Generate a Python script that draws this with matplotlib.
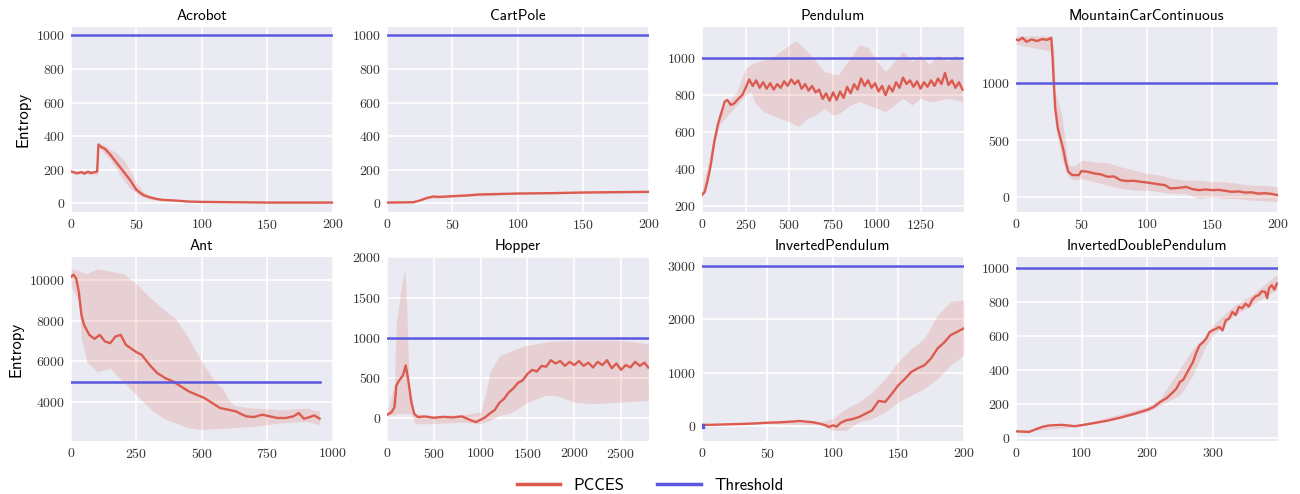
import numpy as np
import matplotlib
matplotlib.use("Agg")
import matplotlib.pyplot as plt

# ---------------- data ----------------
titles = ["Acrobot", "CartPole", "Pendulum", "MountainCarContinuous",
          "Ant", "Hopper", "InvertedPendulum", "InvertedDoublePendulum"]
thresholds = [1000, 1000, 1000, 1000, 5000, 1000, 3000, 1000]

# Acrobot
acro_x = [0, 3, 5, 8, 10, 13, 15, 18, 20, 21, 23, 26, 30, 35, 40, 45, 50, 55,
          60, 65, 70, 80, 90, 100, 125, 150, 200]
acro_y = [190, 182, 178, 186, 176, 188, 180, 185, 188, 350, 335, 324, 290,
          240, 190, 140, 80, 50, 36, 26, 20, 16, 10, 8, 6, 4, 4]
acro_bx = [0, 20, 21, 25, 30, 35, 40, 45, 50, 55, 60, 70, 100, 200]
acro_lo = [180, 170, 340, 300, 260, 200, 140, 90, 60, 36, 24, 16, 6, 2]
acro_hi = [196, 196, 356, 350, 320, 300, 260, 200, 120, 70, 44, 26, 12, 8]

# CartPole
cart_x = [0, 10, 20, 25, 30, 35, 40, 50, 60, 70, 80, 100, 125, 150, 175, 200]
cart_y = [4, 5, 6, 16, 30, 40, 38, 42, 46, 52, 54, 58, 60, 64, 66, 68]
cart_bx = [0, 20, 30, 50, 100, 150, 200]
cart_lo = [2, 3, 26, 38, 54, 60, 63]
cart_hi = [7, 9, 34, 47, 62, 68, 73]

# Pendulum
pend_x = [0, 15, 30, 50, 70, 90, 110, 130, 145, 165, 185, 210, 230,
          250, 270, 290, 310, 330, 350, 370, 390, 410, 430, 450, 470, 490,
          510, 530, 550, 570, 590, 610, 630, 650, 670, 690, 710, 730, 750,
          770, 790, 810, 830, 850, 870, 890, 910, 930, 950, 970, 990, 1010,
          1030, 1050, 1070, 1090, 1110, 1130, 1150, 1170, 1190, 1210, 1230,
          1250, 1270, 1290, 1310, 1330, 1350, 1370, 1390, 1410, 1430, 1450,
          1470, 1490]
pend_y = [262, 277, 331, 422, 548, 639, 702, 765, 774, 747, 756, 783, 800,
          840, 885, 850, 880, 840, 870, 835, 865, 830, 860, 840, 875, 850,
          885, 860, 880, 835, 860, 825, 850, 815, 830, 780, 810, 770, 815,
          775, 820, 785, 845, 810, 860, 830, 890, 850, 880, 840, 865, 820,
          850, 800, 850, 820, 870, 840, 895, 860, 880, 845, 875, 835, 870,
          845, 880, 850, 890, 860, 920, 855, 880, 840, 870, 830]
pend_bx = [0, 100, 200, 250, 280, 300, 350, 400, 450, 500, 530, 550, 600,
           650, 700, 750, 780, 800, 850, 900, 950, 1000, 1050, 1100, 1150,
           1200, 1250, 1300, 1350, 1400, 1450, 1490]
pend_lo = [245, 639, 747, 801, 819, 765, 711, 692, 674, 656, 640, 630, 674,
           692, 729, 692, 700, 711, 747, 765, 747, 729, 711, 747, 783, 747,
           783, 765, 770, 783, 775, 765]
pend_hi = [290, 711, 819, 946, 965, 973, 990, 1000, 1037, 1070, 1092, 1085,
           1037, 983, 928, 915, 910, 940, 1000, 1073, 1055, 983, 928, 983,
           1037, 983, 1019, 965, 1019, 983, 1019, 983]

# MountainCarContinuous
mcar_x = [0, 2, 5, 8, 12, 16, 20, 24, 27, 28, 29, 30, 32, 34, 36, 38, 40,
          43, 48, 50, 55, 60, 65, 70, 75, 80, 85, 90, 95, 100, 105, 110, 114,
          118, 125, 130, 135, 140, 145, 150, 155, 160, 165, 170, 175, 180,
          185, 190, 195, 200]
mcar_y = [1386, 1378, 1401, 1366, 1386, 1372, 1389, 1383, 1401, 1224, 988,
          782, 605, 516, 428, 310, 221, 192, 192, 227, 221, 206, 198, 177,
          180, 147, 139, 142, 133, 127, 118, 109, 103, 74, 80, 88, 68, 59, 65,
          59, 62, 53, 44, 48, 38, 40, 29, 32, 27, 15]
mcar_bx = [0, 27, 29, 30, 35, 40, 45, 50, 60, 70, 80, 90, 100, 110, 120, 130,
           140, 150, 160, 170, 180, 190, 200]
mcar_lo = [1342, 1283, 1000, 634, 339, 177, 147, 162, 133, 103, 74, 59, 59,
           44, 29, 29, -15, 0, -15, -15, -29, -35, -44]
mcar_hi = [1416, 1416, 1300, 929, 723, 280, 270, 324, 310, 300, 265, 236,
           206, 192, 162, 147, 147, 133, 133, 118, 103, 103, 88]

# Ant
ant_x = [0, 10, 20, 30, 40, 50, 70, 90, 110, 130, 150, 170, 190, 210, 250,
         270, 300, 330, 360, 390, 420, 450, 480, 510, 540, 570, 600, 630, 650,
         670, 700, 730, 760, 790, 820, 850, 870, 890, 910, 930, 950]
ant_y = [10164, 10279, 10082, 9426, 8295, 7803, 7311, 7115, 7311, 6984, 6902,
         7230, 7311, 6820, 6459, 6328, 5836, 5426, 5180, 5016, 4770, 4525,
         4361, 4197, 3951, 3705, 3623, 3541, 3410, 3295, 3262, 3377, 3295,
         3213, 3213, 3295, 3459, 3180, 3250, 3340, 3180]
ant_bx = [0, 30, 40, 60, 100, 150, 200, 250, 300, 350, 400, 450, 500, 550,
          580, 600, 620, 650, 700, 800, 900, 950]
ant_lo = [9754, 8934, 7131, 5984, 5492, 5656, 5000, 4344, 3705, 3213, 2967,
          2721, 2639, 2680, 2700, 2721, 2740, 2760, 2803, 2967, 3049, 2885]
ant_hi = [10574, 10490, 10400, 10328, 10574, 10450, 10328, 9836, 9180, 8607,
          8115, 7131, 5984, 5000, 4672, 4180, 3852, 3770, 3705, 3623, 3705,
          3541]

# Hopper
hop_x = [0, 50, 80, 100, 130, 170, 200, 230, 260, 290, 330, 400, 500, 600,
         700, 800, 900, 950, 1000, 1050, 1100, 1150, 1200, 1250, 1300, 1350,
         1400, 1450, 1500, 1550, 1600, 1650, 1700, 1750, 1800, 1850, 1900,
         1950, 2000, 2050, 2100, 2150, 2200, 2250, 2300, 2350, 2400, 2450,
         2500, 2550, 2600, 2650, 2700, 2750, 2790]
hop_y = [41, 75, 137, 407, 469, 531, 656, 448, 199, 54, 12, 20, 4, 15, 8,
         21, -29, -50, -20, 10, 60, 100, 190, 240, 320, 370, 440, 470, 550,
         600, 580, 650, 640, 720, 680, 710, 650, 700, 660, 710, 650, 690,
         630, 700, 660, 720, 620, 680, 600, 660, 630, 700, 650, 690, 630]
hop_bx = [0, 80, 100, 150, 190, 210, 240, 260, 300, 500, 800, 1000, 1050,
          1100, 1200, 1300, 1400, 1500, 1600, 1700, 1800, 2000, 2200, 2500,
          2790]
hop_lo = [33, 40, 54, 54, 54, 54, 54, 54, -70, -70, -50, -70, -50, -29, 33,
          54, 116, 199, 240, 282, 282, 199, 178, 199, 220]
hop_hi = [41, 448, 1195, 1610, 1859, 1404, 282, 137, 54, 33, 41, 75, 282,
          573, 780, 822, 870, 905, 925, 946, 960, 967, 967, 967, 925]

# InvertedPendulum
ip_x = [0, 10, 20, 30, 40, 50, 60, 70, 75, 80, 85, 90, 95, 97, 100, 103,
        106, 110, 115, 120, 125, 130, 135, 140, 145, 150, 155, 160, 165, 170,
        175, 180, 185, 190, 195, 200]
ip_y = [19, 25, 32, 38, 48, 62, 70, 85, 94, 80, 70, 44, 10, -19, 12, -10, 60,
        106, 130, 169, 230, 294, 469, 450, 600, 762, 880, 1012, 1080, 1137,
        1262, 1450, 1560, 1700, 1760, 1825]
ip_bx = [0, 50, 90, 100, 110, 120, 130, 140, 150, 160, 170, 180, 190, 200]
ip_lo = [5, 45, 20, -81, -81, 75, 137, 262, 450, 575, 700, 887, 1137, 1325]
ip_hi = [35, 80, 70, 137, 325, 450, 637, 887, 1200, 1450, 1637, 2075, 2325,
         2356]
ip_mark_x = [0]
ip_mark_y = [0]

# InvertedDoublePendulum
idp_x = [0, 20, 30, 40, 50, 70, 90, 100, 120, 140, 160, 180, 200, 210, 220,
         230, 240, 245, 250, 255, 260, 265, 270, 275, 280, 285, 290, 295, 300,
         305, 310, 315, 320, 325, 330, 335, 340, 345, 350, 355, 360, 365, 370,
         375, 380, 383, 386, 390, 394, 398]
idp_y = [37, 33, 49, 63, 71, 75, 67, 73, 86, 100, 118, 139, 163, 180, 210,
         233, 269, 290, 327, 340, 376, 410, 445, 500, 543, 560, 582, 620, 631,
         640, 651, 630, 690, 700, 739, 720, 769, 760, 788, 770, 808, 830, 837,
         860, 857, 820, 880, 896, 870, 906]
idp_bx = [0, 100, 200, 220, 250, 270, 290, 300, 330, 360, 398]
idp_lo = [32, 68, 150, 190, 249, 367, 543, 600, 710, 780, 870]
idp_hi = [42, 78, 180, 229, 406, 524, 602, 660, 770, 840, 960]

series = [
    (acro_x, acro_y, acro_bx, acro_lo, acro_hi),
    (cart_x, cart_y, cart_bx, cart_lo, cart_hi),
    (pend_x, pend_y, pend_bx, pend_lo, pend_hi),
    (mcar_x, mcar_y, mcar_bx, mcar_lo, mcar_hi),
    (ant_x, ant_y, ant_bx, ant_lo, ant_hi),
    (hop_x, hop_y, hop_bx, hop_lo, hop_hi),
    (ip_x, ip_y, ip_bx, ip_lo, ip_hi),
    (idp_x, idp_y, idp_bx, idp_lo, idp_hi),
]

xlims = [(0, 200), (0, 200), (0, 1497), (0, 200),
         (0, 1000), (0, 2795), (0, 200), (0, 399)]
ylims = [(-52, 1050), (-52, 1050), (170, 1168), (-133, 1496),
         (2080, 11150), (-285, 2005), (-280, 3160), (-20, 1062)]
xticks = [[0, 50, 100, 150, 200], [0, 50, 100, 150, 200],
          [0, 250, 500, 750, 1000, 1250], [0, 50, 100, 150, 200],
          [0, 250, 500, 750, 1000], [0, 500, 1000, 1500, 2000, 2500],
          [0, 50, 100, 150, 200], [0, 100, 200, 300]]
yticks = [[0, 200, 400, 600, 800, 1000], [0, 200, 400, 600, 800, 1000],
          [200, 400, 600, 800, 1000], [0, 500, 1000],
          [4000, 6000, 8000, 10000], [0, 500, 1000, 1500, 2000],
          [0, 1000, 2000, 3000], [0, 200, 400, 600, 800, 1000]]

# ---------------- style ----------------
RED = "#dc5b50"
BLUE = "#5a57df"
plt.rcParams.update({
    "font.family": "cmr10",
    "mathtext.fontset": "cm",
    "axes.formatter.use_mathtext": True,
    "axes.unicode_minus": False,
    "axes.facecolor": "#eaeaf2",
    "axes.edgecolor": "white",
    "grid.color": "white",
    "grid.linewidth": 1.2,
    "xtick.labelsize": 10,
    "ytick.labelsize": 10,
    "xtick.color": "#333333",
    "ytick.color": "#333333",
})

fig = plt.figure(figsize=(13, 4.94), dpi=100)

lefts = [0.0546, 0.2977, 0.540, 0.7815]
width = 0.2013
rows = [(0.5709, 0.3745), (0.1073, 0.3725)]

line_handles = None
for i, (x, y, bx, lo, hi) in enumerate(series):
    r, c = divmod(i, 4)
    ax = fig.add_axes([lefts[c], rows[r][0], width, rows[r][1]])
    for s in ax.spines.values():
        s.set_visible(False)
    ax.grid(True)
    ax.set_axisbelow(True)
    ax.tick_params(length=0, pad=4)

    ax.fill_between(bx, lo, hi, color=RED, alpha=0.18, linewidth=0)
    l1, = ax.plot(x, y, color=RED, lw=1.7, label="PCCES")
    l2, = ax.plot([x[0], x[-1]], [thresholds[i], thresholds[i]],
                  color=BLUE, lw=1.8, label="Threshold")
    if titles[i] == "InvertedPendulum":
        ax.plot(ip_mark_x, ip_mark_y, "s", color=BLUE, ms=3)

    ax.set_xlim(*xlims[i])
    ax.set_ylim(*ylims[i])
    ax.set_xticks(xticks[i])
    ax.set_yticks(yticks[i])
    ax.set_title(titles[i], family="cmss10", fontsize=11, pad=5)
    if c == 0:
        ax.set_ylabel("Entropy", family="cmss10", fontsize=12)
    line_handles = [l1, l2]

fig.legend(line_handles, ["PCCES", "Threshold"], loc="lower center",
           ncol=2, frameon=False, bbox_to_anchor=(0.5, -0.028),
           prop={"family": "cmss10", "size": 12}, handlelength=2.6,
           columnspacing=2.0)
for h in fig.legends[0].legend_handles:
    h.set_linewidth(2.5)

fig.savefig("out.png", dpi=100)
